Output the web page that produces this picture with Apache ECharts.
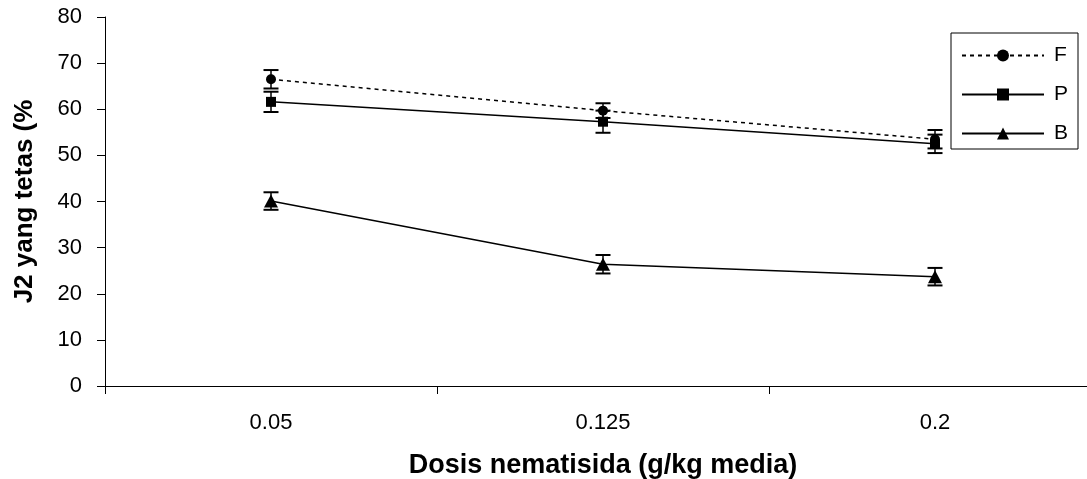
<!DOCTYPE html>
<html>
<head>
<meta charset="utf-8">
<script src="https://cdn.jsdelivr.net/npm/echarts@6/dist/echarts.min.js"></script>
<style>
html,body{margin:0;padding:0;background:#fff;overflow:hidden;width:1087px;height:479px;}
#chart{width:1120px;height:479px;}
</style>
</head>
<body>
<div id="chart"></div>
<script>
const categories = ['0.05', '0.125', '0.2'];
const seriesNames = ['F', 'P', 'B'];
const valuesF = [66.5, 59.7, 53.5];
const valuesP = [61.6, 57.3, 52.5];
const valuesB = [40.1, 26.4, 23.7];
const errF = [2.0, 1.6, 2.0];
const errP = [2.2, 2.4, 2.0];
const errB = [1.9, 2.0, 1.9];
const yTicks = [0, 80, 10];
const xTitle = 'Dosis nematisida (g/kg media)';
const yTitle = 'J2 yang tetas (%';

const font = 'Liberation Sans, Arial, sans-serif';

function errData(vals, errs) {
  return vals.map((v, i) => [i, v, errs[i]]);
}
function errSeries(vals, errs) {
  return {
    type: 'custom',
    data: errData(vals, errs),
    silent: true,
    z: 1,
    renderItem: function (params, api) {
      const i = api.value(0), v = api.value(1), e = api.value(2);
      const top = api.coord([i, v + e]);
      const bot = api.coord([i, v - e]);
      const hw = 7.5;
      const st = { stroke: '#000', lineWidth: 2 };
      return {
        type: 'group',
        children: [
          { type: 'line', shape: { x1: top[0], y1: top[1], x2: bot[0], y2: bot[1] }, style: { stroke: '#000', lineWidth: 1.5 } },
          { type: 'line', shape: { x1: top[0] - hw, y1: top[1], x2: top[0] + hw, y2: top[1] }, style: st },
          { type: 'line', shape: { x1: bot[0] - hw, y1: bot[1], x2: bot[0] + hw, y2: bot[1] }, style: st }
        ]
      };
    }
  };
}

const chart = echarts.init(document.getElementById('chart'));
chart.setOption({
  animation: false,
  backgroundColor: '#fff',
  grid: { left: 105, top: 17, width: 996, height: 369, containLabel: false, outerBoundsMode: 'none' },
  legend: {
    orient: 'vertical',
    left: 951,
    top: 33,
    width: 125,
    padding: [12, 10, 5, 10],
    itemWidth: 82,
    itemHeight: 15,
    itemGap: 18,
    backgroundColor: '#fff',
    borderColor: '#000',
    borderWidth: 1,
    data: seriesNames,
    textStyle: { fontFamily: font, fontSize: 21, color: '#000', padding: [0, 0, 0, 5] }
  },
  xAxis: {
    type: 'category',
    data: categories,
    boundaryGap: true,
    name: xTitle,
    nameLocation: 'middle',
    nameGap: 66,
    nameTextStyle: { fontFamily: font, fontSize: 27, fontWeight: 'bold', color: '#000' },
    axisLine: { lineStyle: { color: '#000', width: 1 } },
    axisTick: { show: true, length: 8, lineStyle: { color: '#000' } },
    axisLabel: { fontFamily: font, fontSize: 22, color: '#000', margin: 26 }
  },
  yAxis: {
    type: 'value',
    min: yTicks[0],
    max: yTicks[1],
    interval: yTicks[2],
    name: yTitle,
    nameLocation: 'middle',
    nameGap: 67,
    nameRotate: 90,
    nameTextStyle: { fontFamily: font, fontSize: 26, fontWeight: 'bold', color: '#000' },
    splitLine: { show: false },
    axisLine: { show: true, lineStyle: { color: '#000', width: 1 } },
    axisTick: { show: true, length: 8, lineStyle: { color: '#000' } },
    axisLabel: { fontFamily: font, fontSize: 22, color: '#000', margin: 23 }
  },
  series: [
    errSeries(valuesF, errF),
    errSeries(valuesP, errP),
    errSeries(valuesB, errB),
    {
      name: 'F', type: 'line', data: valuesF, z: 3,
      symbol: 'circle', symbolSize: 10,
      lineStyle: { color: '#000', width: 1.5, type: [4, 4] },
      itemStyle: { color: '#000' }
    },
    {
      name: 'P', type: 'line', data: valuesP, z: 2,
      symbol: 'rect', symbolSize: 10,
      lineStyle: { color: '#000', width: 1.5 },
      itemStyle: { color: '#000' }
    },
    {
      name: 'B', type: 'line', data: valuesB, z: 2,
      symbol: 'triangle', symbolSize: [14, 13],
      lineStyle: { color: '#000', width: 1.5 },
      itemStyle: { color: '#000' }
    }
  ]
});
</script>
</body>
</html>
